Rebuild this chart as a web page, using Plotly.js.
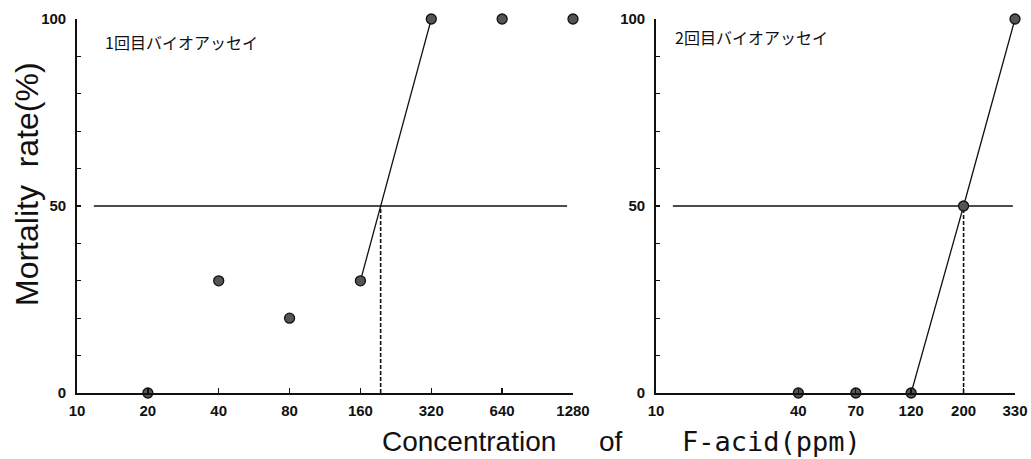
<!DOCTYPE html>
<html>
<head>
<meta charset="utf-8">
<script src="https://cdn.plot.ly/plotly-3.0.1.min.js"></script>
<style>html,body{margin:0;padding:0;background:#fff;}#chart{width:1031px;height:459px;}</style>
</head>
<body>
<div id="chart"></div>
<script>
// ---- data ----
const conc1 = [20, 40, 80, 160, 320, 640, 1280];
const mort1 = [0, 30, 20, 30, 100, 100, 100];
const fitConc1 = [160, 320];
const fitMort1 = [30, 100];
const lc50_1 = 195;
const ticks1 = [10, 20, 40, 80, 160, 320, 640, 1280];

const conc2 = [40, 70, 120, 200, 330];
const mort2 = [0, 0, 0, 50, 100];
const fitConc2 = [120, 200, 330];
const fitMort2 = [0, 50, 100];
const lc50_2 = 200;
const ticks2 = [10, 40, 70, 120, 200, 330];

const yTicks = [0, 10, 20, 30, 40, 50, 60, 70, 80, 90, 100];
const yTickText = ['0', '', '', '', '', '50', '', '', '', '', '100'];
const half = 50;
const label1 = '1回目バイオアッセイ';
const label2 = '2回目バイオアッセイ';

const W = 1031, H = 459;
const px = v => v / W, py = v => 1 - v / H;

const marker = {size: 10, color: '#555', line: {color: '#111', width: 1.3}};
const traces = [
  {x: fitConc1, y: fitMort1, xaxis: 'x', yaxis: 'y', mode: 'lines', line: {color: '#111', width: 1.3}, hoverinfo: 'skip', cliponaxis: false},
  {x: conc1, y: mort1, xaxis: 'x', yaxis: 'y', mode: 'markers', marker: marker, cliponaxis: false},
  {x: fitConc2, y: fitMort2, xaxis: 'x2', yaxis: 'y2', mode: 'lines', line: {color: '#111', width: 1.3}, hoverinfo: 'skip', cliponaxis: false},
  {x: conc2, y: mort2, xaxis: 'x2', yaxis: 'y2', mode: 'markers', marker: marker, cliponaxis: false}
];

const tickFont = {family: 'Liberation Sans, Arial, sans-serif', size: 15, color: '#111', weight: 700};
function xax(dom, ticks, lo, hi) {
  return {type: 'log', domain: dom, range: [Math.log10(lo), Math.log10(hi)],
    tickvals: ticks, ticktext: ticks.map(String), ticks: 'inside', ticklen: 5, tickwidth: 1.3, tickcolor: '#111',
    showline: true, linecolor: '#111', linewidth: 1.8, showgrid: false, zeroline: false,
    tickfont: tickFont, ticklabelstandoff: 3, fixedrange: true};
}
function yax(anchor) {
  return {domain: [py(393), py(19)], range: [0, 100], anchor: anchor,
    tickvals: yTicks, ticktext: yTickText, ticks: 'inside', ticklen: 4, tickwidth: 1.3, tickcolor: '#111',
    showline: true, linecolor: '#111', linewidth: 1.8, showgrid: false, zeroline: false,
    tickfont: tickFont, ticklabelstandoff: 6, fixedrange: true};
}

const layout = {
  width: W, height: H, margin: {l: 0, r: 0, t: 0, b: 0},
  paper_bgcolor: '#fff', plot_bgcolor: 'rgba(0,0,0,0)', showlegend: false,
  xaxis: Object.assign(xax([px(77), px(573)], ticks1, 10, 1280), {anchor: 'y'}),
  yaxis: yax('x'),
  xaxis2: Object.assign(xax([px(656), px(1015)], ticks2, 10, 330), {anchor: 'y2'}),
  yaxis2: yax('x2'),
  shapes: [
    {type: 'line', xref: 'x domain', yref: 'y', x0: 0.034, x1: 0.988, y0: half, y1: half, line: {color: '#111', width: 1.3}, layer: 'below'},
    {type: 'line', xref: 'x', yref: 'y', x0: lc50_1, x1: lc50_1, y0: 0, y1: half, line: {color: '#111', width: 1.6, dash: '4px,2px'}, layer: 'below'},
    {type: 'line', xref: 'x2 domain', yref: 'y2', x0: 0.047, x1: 0.994, y0: half, y1: half, line: {color: '#111', width: 1.3}, layer: 'below'},
    {type: 'line', xref: 'x2', yref: 'y2', x0: lc50_2, x1: lc50_2, y0: 0, y1: half, line: {color: '#111', width: 1.6, dash: '4px,2px'}, layer: 'below'}
  ],
  annotations: [
    {text: label1, xref: 'paper', yref: 'paper', x: px(103), y: py(42), xanchor: 'left', yanchor: 'middle', showarrow: false,
     font: {family: 'Noto Sans CJK JP', size: 16, color: '#111'}},
    {text: label2, xref: 'paper', yref: 'paper', x: px(673), y: py(37), xanchor: 'left', yanchor: 'middle', showarrow: false,
     font: {family: 'Noto Sans CJK JP', size: 16, color: '#111'}},
    {text: 'Mortality  rate(%)', xref: 'paper', yref: 'paper', x: px(27), y: py(184), xanchor: 'center', yanchor: 'middle', textangle: -90, showarrow: false,
     font: {family: 'Liberation Sans, Arial, sans-serif', size: 32, color: '#111'}},
    {text: 'Concentration', xref: 'paper', yref: 'paper', x: px(469), y: py(441), xanchor: 'center', yanchor: 'middle', showarrow: false,
     font: {family: 'Liberation Sans, Arial, sans-serif', size: 28, color: '#111'}},
    {text: 'of', xref: 'paper', yref: 'paper', x: px(611), y: py(441), xanchor: 'center', yanchor: 'middle', showarrow: false,
     font: {family: 'Liberation Sans, Arial, sans-serif', size: 28, color: '#111'}},
    {text: 'F-acid(ppm)', xref: 'paper', yref: 'paper', x: px(771), y: py(441), xanchor: 'center', yanchor: 'middle', showarrow: false,
     font: {family: 'DejaVu Sans Mono, monospace', size: 27, color: '#111'}}
  ]
};

Plotly.newPlot('chart', traces, layout, {displayModeBar: false, staticPlot: true});
</script>
</body>
</html>
